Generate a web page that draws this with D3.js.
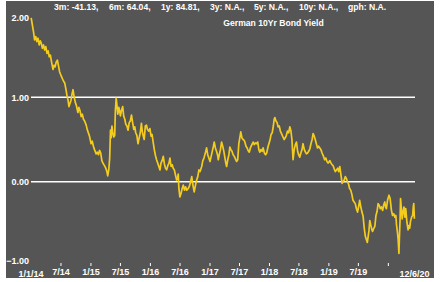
<!DOCTYPE html>
<html><head><meta charset="utf-8">
<script src="https://cdn.jsdelivr.net/npm/d3@7"></script>
<style>
html,body{margin:0;padding:0;background:#fff;}
svg{display:block;}
text{font-family:Arial,"Liberation Sans",sans-serif;font-weight:bold;fill:#fff;}
</style></head>
<body>
<svg id="chart" width="445" height="282"></svg>
<script>
const title = "German 10Yr Bond Yield";
const headerItems = ["3m: -41.13,", "6m: 64.04,", "1y: 84.81,", "3y: N.A.,", "5y: N.A.,", "10y: N.A.,", "gph: N.A."];
const yTicks = [2, 1, 0, -1];
const gridValues = [1, 0];
const xTickDates = ["2014-07-01","2015-01-01","2015-07-01","2016-01-01","2016-07-01","2017-01-01","2017-07-01","2018-01-01","2018-07-01","2019-01-01","2019-07-01","2020-01-01"];
const xTickLabels = ["7/14","1/15","7/15","1/16","7/16","1/17","7/17","1/18","7/18","1/19","7/19",""];
const startLabel = "1/1/14";
const endLabel = "12/6/20";
const startDate = "2014-01-01";
const endDate = "2020-06-12";

const dates = [
"2014-01-02","2014-01-09","2014-01-16","2014-01-23","2014-01-30","2014-02-06","2014-02-13","2014-02-20","2014-02-27","2014-03-05","2014-03-12","2014-03-19","2014-03-26","2014-04-02","2014-04-09","2014-04-16","2014-04-23","2014-04-30","2014-05-07","2014-05-16","2014-05-23","2014-05-29","2014-06-05","2014-06-12","2014-06-19","2014-06-26","2014-07-06","2014-07-13","2014-07-20","2014-07-27","2014-08-03","2014-08-10","2014-08-17","2014-08-22","2014-08-27","2014-09-03","2014-09-10","2014-09-16","2014-09-23","2014-09-30","2014-10-07","2014-10-16","2014-10-22","2014-10-29","2014-11-05","2014-11-12","2014-11-19","2014-11-26","2014-12-06","2014-12-12","2014-12-19","2014-12-26",
"2015-01-05","2015-01-12","2015-01-19","2015-01-26","2015-02-05","2015-02-12","2015-02-19","2015-02-26","2015-03-05","2015-03-12","2015-03-19","2015-03-28","2015-04-05","2015-04-12","2015-04-17","2015-04-24","2015-04-29","2015-05-04","2015-05-08","2015-05-13","2015-05-18","2015-05-24","2015-05-30","2015-06-03","2015-06-08","2015-06-13","2015-06-18","2015-06-24","2015-06-28","2015-07-04","2015-07-10","2015-07-18","2015-07-24","2015-07-31","2015-08-06","2015-08-13","2015-08-20","2015-08-27","2015-09-03","2015-09-10","2015-09-17","2015-09-24","2015-09-30","2015-10-06","2015-10-13","2015-10-20","2015-10-27","2015-11-03","2015-11-10","2015-11-15","2015-11-20","2015-11-27","2015-12-04","2015-12-11","2015-12-17","2015-12-24",
"2016-01-01","2016-01-08","2016-01-14","2016-01-21","2016-01-28","2016-02-04","2016-02-11","2016-02-18","2016-02-25","2016-03-03","2016-03-09","2016-03-16","2016-03-23","2016-03-30","2016-04-06","2016-04-13","2016-04-20","2016-04-27","2016-05-03","2016-05-10","2016-05-17","2016-05-23","2016-05-30","2016-06-06","2016-06-13","2016-06-20","2016-06-23","2016-06-27","2016-07-03","2016-07-10","2016-07-17","2016-07-24","2016-07-31","2016-08-07","2016-08-14","2016-08-24","2016-08-31","2016-09-07","2016-09-14","2016-09-21","2016-09-29","2016-10-06","2016-10-14","2016-10-21","2016-10-28","2016-11-04","2016-11-14","2016-11-21","2016-11-28","2016-12-05","2016-12-14","2016-12-21","2016-12-28",
"2017-01-04","2017-01-11","2017-01-18","2017-01-25","2017-01-30","2017-02-06","2017-02-13","2017-02-19","2017-02-24","2017-03-02","2017-03-09","2017-03-16","2017-03-23","2017-03-30","2017-04-06","2017-04-11","2017-04-16","2017-04-23","2017-04-30","2017-05-06","2017-05-12","2017-05-19","2017-05-26","2017-06-02","2017-06-09","2017-06-16","2017-06-23","2017-06-30","2017-07-06","2017-07-12","2017-07-19","2017-07-26","2017-08-02","2017-08-06","2017-08-13","2017-08-20","2017-08-26","2017-09-02","2017-09-09","2017-09-16","2017-09-26","2017-10-03","2017-10-10","2017-10-17","2017-10-24","2017-10-31","2017-11-06","2017-11-13","2017-11-20","2017-11-26","2017-12-04","2017-12-11","2017-12-18","2017-12-27",
"2018-01-07","2018-01-14","2018-01-21","2018-01-28","2018-02-02","2018-02-06","2018-02-13","2018-02-20","2018-02-26","2018-03-05","2018-03-12","2018-03-19","2018-03-28","2018-04-04","2018-04-11","2018-04-18","2018-04-25","2018-05-02","2018-05-09","2018-05-16","2018-05-22","2018-05-29","2018-06-05","2018-06-12","2018-06-19","2018-06-26","2018-07-02","2018-07-09","2018-07-16","2018-07-23","2018-07-29","2018-08-06","2018-08-13","2018-08-19","2018-08-26","2018-09-02","2018-09-09","2018-09-16","2018-09-23","2018-09-29","2018-10-06","2018-10-12","2018-10-19","2018-10-26","2018-11-02","2018-11-09","2018-11-16","2018-11-23","2018-11-30","2018-12-09","2018-12-16","2018-12-23","2018-12-30",
"2019-01-10","2019-01-17","2019-01-24","2019-01-30","2019-02-06","2019-02-13","2019-02-20","2019-02-27","2019-03-05","2019-03-12","2019-03-19","2019-03-26","2019-04-01","2019-04-08","2019-04-15","2019-04-21","2019-04-28","2019-05-05","2019-05-11","2019-05-18","2019-05-25","2019-06-01","2019-06-08","2019-06-15","2019-06-22","2019-06-29","2019-07-05","2019-07-12","2019-07-19","2019-07-26","2019-08-02","2019-08-09","2019-08-16","2019-08-23","2019-08-28","2019-09-02","2019-09-07","2019-09-12","2019-09-19","2019-09-25","2019-09-29","2019-10-05","2019-10-13","2019-10-20","2019-10-27","2019-11-02","2019-11-09","2019-11-16","2019-11-23","2019-11-30","2019-12-06","2019-12-13","2019-12-18","2019-12-23","2019-12-30",
"2020-01-08","2020-01-15","2020-01-23","2020-01-30","2020-02-06","2020-02-13","2020-02-19","2020-02-23","2020-02-29","2020-03-04","2020-03-09","2020-03-12","2020-03-16","2020-03-19","2020-03-24","2020-03-29","2020-04-03","2020-04-09","2020-04-15","2020-04-20","2020-04-27","2020-05-04","2020-05-09","2020-05-14","2020-05-19","2020-05-26","2020-06-01","2020-06-05","2020-06-08","2020-06-12"];

const yields = [
1.94,1.86,1.78,1.68,1.72,1.66,1.70,1.62,1.67,1.64,1.58,1.62,1.56,1.60,1.52,1.55,1.48,1.50,1.42,1.33,1.38,1.36,1.42,1.44,1.37,1.30,1.25,1.22,1.19,1.17,1.10,1.02,0.96,0.89,0.92,0.96,1.04,1.09,1.00,0.94,0.90,0.82,0.88,0.84,0.77,0.80,0.74,0.72,0.67,0.62,0.58,0.54,
0.45,0.48,0.42,0.38,0.33,0.35,0.32,0.37,0.34,0.25,0.22,0.19,0.16,0.12,0.07,0.15,0.28,0.61,0.52,0.66,0.58,0.53,0.55,0.84,0.99,0.90,0.80,0.88,0.85,0.78,0.84,0.89,0.78,0.74,0.68,0.66,0.61,0.70,0.72,0.79,0.70,0.62,0.65,0.58,0.55,0.45,0.52,0.58,0.69,0.60,0.55,0.50,0.66,0.67,0.62,0.60,
0.63,0.54,0.56,0.47,0.38,0.31,0.26,0.22,0.18,0.14,0.22,0.25,0.30,0.21,0.16,0.14,0.19,0.22,0.28,0.18,0.20,0.16,0.14,0.08,0.02,0.05,0.09,-0.08,-0.18,-0.14,-0.08,-0.04,-0.10,-0.06,-0.10,-0.08,-0.05,0.00,0.06,-0.04,-0.12,-0.05,0.02,0.06,0.14,0.12,0.18,0.25,0.28,0.33,0.40,0.32,0.28,
0.24,0.30,0.36,0.42,0.47,0.40,0.36,0.32,0.26,0.32,0.38,0.47,0.42,0.36,0.28,0.22,0.18,0.26,0.32,0.41,0.38,0.36,0.32,0.30,0.27,0.24,0.26,0.45,0.52,0.59,0.52,0.50,0.49,0.47,0.42,0.40,0.37,0.35,0.40,0.43,0.47,0.44,0.46,0.45,0.47,0.38,0.35,0.38,0.36,0.40,0.34,0.32,0.34,0.42,
0.49,0.56,0.58,0.66,0.74,0.76,0.72,0.70,0.65,0.66,0.60,0.57,0.53,0.50,0.52,0.55,0.60,0.58,0.65,0.60,0.50,0.26,0.38,0.44,0.47,0.36,0.32,0.29,0.34,0.38,0.45,0.38,0.35,0.33,0.34,0.36,0.39,0.45,0.50,0.57,0.54,0.50,0.45,0.40,0.42,0.40,0.38,0.34,0.31,0.26,0.28,0.24,0.22,
0.25,0.22,0.20,0.19,0.15,0.12,0.14,0.16,0.12,0.18,0.08,-0.02,0.00,0.02,0.06,0.04,0.00,-0.03,-0.08,-0.10,-0.15,-0.22,-0.24,-0.26,-0.32,-0.36,-0.30,-0.22,-0.30,-0.36,-0.41,-0.55,-0.65,-0.69,-0.72,-0.65,-0.58,-0.46,-0.52,-0.57,-0.59,-0.56,-0.53,-0.40,-0.35,-0.26,-0.28,-0.32,-0.30,-0.34,-0.28,-0.24,-0.30,-0.32,-0.22,
-0.16,-0.20,-0.34,-0.40,-0.38,-0.42,-0.40,-0.51,-0.60,-0.68,-0.85,-0.66,-0.45,-0.20,-0.32,-0.44,-0.36,-0.30,-0.42,-0.32,-0.48,-0.57,-0.52,-0.55,-0.47,-0.42,-0.40,-0.30,-0.26,-0.44];

const parse = d3.timeParse("%Y-%m-%d");
const n = Math.min(dates.length, yields.length);
const data = dates.slice(0, n).map((d, i) => ({date: parse(d), value: yields[i]}));

const svg = d3.select("#chart");
const plotLeft = 31, plotRight = 414.4, plotTop = 12.9, plotBottom = 266.1;

svg.append("rect").attr("x", 6).attr("y", 1).attr("width", 428).attr("height", 277).attr("fill", "#555555");

const x = d3.scaleTime().domain([parse(startDate), parse(endDate)]).range([plotLeft, plotRight]);
const y = d3.scaleLinear().domain([-1, 2]).range([plotBottom, plotTop]);

// gridlines
svg.append("g").selectAll("line").data(gridValues).join("line")
  .attr("x1", plotLeft).attr("x2", plotRight + 0.6)
  .attr("y1", d => y(d)).attr("y2", d => y(d))
  .attr("stroke", "#fff").attr("stroke-width", 1.6);

// y axis labels
const yAxis = d3.axisLeft(y).tickValues(yTicks).tickFormat(d3.format(".2f")).tickSize(0).tickPadding(2);
const gy = svg.append("g").attr("transform", `translate(${plotLeft},0)`).call(yAxis);
gy.select(".domain").remove();
gy.selectAll("text").attr("font-size", 9).attr("fill", "#fff").style("font-family", "Arial, 'Liberation Sans', sans-serif").style("font-weight", "bold")
  .attr("dy", d => d === 2 ? "0.85em" : d === -1 ? "-0.32em" : "0.32em");

// x axis
const tickDates = xTickDates.map(parse);
const xAxis = d3.axisBottom(x).tickValues(tickDates).tickSize(3).tickPadding(3)
  .tickFormat((d, i) => xTickLabels[i]);
const gx = svg.append("g").attr("transform", `translate(0,263)`).call(xAxis);
gx.select(".domain").remove();
gx.selectAll("line").attr("stroke", "#fff").attr("stroke-width", 1);
gx.selectAll("text").attr("font-size", 9).attr("fill", "#fff").style("font-family", "Arial, 'Liberation Sans', sans-serif").style("font-weight", "bold").attr("dy", "0.72em");

svg.append("text").attr("x", x(parse(startDate))).attr("y", 276.5).attr("text-anchor", "middle").attr("font-size", 9).text(startLabel);
svg.append("text").attr("x", x(parse(endDate))).attr("y", 276.5).attr("text-anchor", "middle").attr("font-size", 9).text(endLabel);

// line
const line = d3.line().x(d => x(d.date)).y(d => y(d.value));
svg.append("path").datum(data).attr("d", line).attr("fill", "none")
  .attr("stroke", "#f4cc1e").attr("stroke-width", 1.7).attr("stroke-linejoin", "round");

// header
const headerX = [54, 109, 161, 210, 254, 299, 348];
svg.append("g").selectAll("text").data(headerItems).join("text")
  .attr("x", (d, i) => headerX[i]).attr("y", 10).attr("font-size", 8.6).text(d => d);
svg.append("text").attr("x", 273.5).attr("y", 26).attr("text-anchor", "middle").attr("font-size", 8.6).text(title);
</script>
</body></html>
